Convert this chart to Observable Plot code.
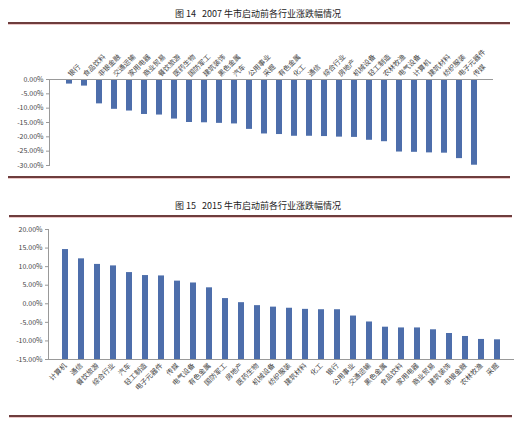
<!DOCTYPE html>
<html><head><meta charset="utf-8">
<script src="https://cdn.jsdelivr.net/npm/d3@7"></script>
<script src="https://cdn.jsdelivr.net/npm/@observablehq/plot@0.6"></script>
<style>
body{margin:0;background:#fff;}
#page{position:relative;width:516px;height:428px;overflow:hidden;background:#fff;font-family:"Noto Sans CJK SC",sans-serif;}
.title{position:absolute;left:0;width:516px;text-align:center;font-size:9px;color:#222;white-space:pre;}
.rule{position:absolute;height:2px;background:#6e3d3d;border-bottom:1px solid #ecc8c8;}
.chart{position:absolute;left:0;}
</style></head><body>
<div id="page">
  <div class="title" id="t1" style="top:7px"></div>
  <div class="rule" style="top:22px;left:8px;width:502px"></div>
  <div class="chart" id="c1" style="top:24px"></div>
  <div class="rule" style="top:176px;left:8px;width:502px"></div>
  <div class="title" id="t2" style="top:199px"></div>
  <div class="rule" style="top:215px;left:9px;width:503px"></div>
  <div class="chart" id="c2" style="top:218px"></div>
  <div class="rule" style="top:415px;left:9px;width:503px"></div>
</div>
<script>
const title07 = "图 14   2007 牛市启动前各行业涨跌幅情况";
const title15 = "图 15   2015 牛市启动前各行业涨跌幅情况";

const industries07 = ["银行","食品饮料","非银金融","交通运输","家用电器","商业贸易","餐饮旅游","医药生物","国防军工","建筑装饰","黑色金属","汽车","公用事业","采掘","有色金属","化工","通信","综合行业","房地产","机械设备","轻工制造","农林牧渔","电气设备","计算机","建筑材料","纺织服装","电子元器件","传媒"];
const change07 = [-1.6,-2.3,-8.5,-10.4,-11.0,-12.2,-12.4,-13.8,-15.0,-15.1,-15.3,-15.5,-17.4,-19.0,-19.2,-19.8,-19.8,-19.9,-20.1,-20.2,-21.2,-21.7,-25.3,-25.4,-25.6,-25.7,-27.6,-29.9];
const ticks07 = [0,-5,-10,-15,-20,-25,-30];

const industries15 = ["计算机","通信","餐饮旅游","综合行业","汽车","轻工制造","电子元器件","传媒","电气设备","有色金属","国防军工","房地产","医药生物","机械设备","纺织服装","建筑材料","化工","银行","公用事业","交通运输","黑色金属","食品饮料","家用电器","商业贸易","建筑装饰","非银金融","农林牧渔","采掘"];
const change15 = [14.6,12.1,10.6,10.2,8.4,7.6,7.5,6.1,5.6,4.3,1.4,0.3,-0.5,-0.9,-1.2,-1.5,-1.6,-1.6,-3.3,-4.9,-6.3,-6.5,-6.5,-7.0,-8.0,-8.8,-9.6,-9.7];
const ticks15 = [20,15,10,5,0,-5,-10,-15];

const barColor = "#4d6eab";
const fmt = d => d.toFixed(2) + "%";
const font = "'Noto Sans CJK SC', sans-serif";

document.getElementById("t1").textContent = title07;
document.getElementById("t2").textContent = title15;

const data07 = industries07.map((name, i) => ({name, value: change07[i]}));
const data15 = industries15.map((name, i) => ({name, value: change15[i]}));

const chart1 = Plot.plot({
  width: 516, height: 154,
  marginTop: 55, marginBottom: 13, marginLeft: 49, marginRight: 23,
  style: {fontFamily: font, fontSize: "7px", color: "#444", background: "transparent", overflow: "visible"},
  x: {domain: industries07, paddingInner: 0.62, paddingOuter: 0.31},
  y: {domain: [d3.min(ticks07), d3.max(ticks07)], nice: false},
  marks: [
    Plot.barY(data07, {x: "name", y: "value", fill: barColor}),
    Plot.ruleY([0], {stroke: "#999"}),
    Plot.frame({anchor: "left", stroke: "#999"}),
    Plot.axisY({ticks: ticks07, tickFormat: fmt, tickSize: 3, tickPadding: 3, label: null, stroke: "#999"}),
    Plot.axisX({anchor: "top", tickRotate: -45, tickSize: 0, tickPadding: 4, label: null, fontSize: 7})
  ]
});
document.getElementById("c1").appendChild(chart1);

const chart2 = Plot.plot({
  width: 516, height: 199,
  marginTop: 11, marginBottom: 58, marginLeft: 48, marginRight: 2,
  style: {fontFamily: font, fontSize: "7px", color: "#444", background: "transparent", overflow: "visible"},
  x: {domain: industries15, paddingInner: 0.61, paddingOuter: 0.305},
  y: {domain: [d3.min(ticks15), d3.max(ticks15)], nice: false},
  marks: [
    Plot.barY(data15, {x: "name", y1: d3.min(ticks15), y2: "value", fill: barColor}),
    Plot.ruleY([d3.min(ticks15)], {stroke: "#999"}),
    Plot.frame({anchor: "left", stroke: "#999"}),
    Plot.axisY({ticks: ticks15, tickFormat: fmt, tickSize: 3, tickPadding: 3, label: null, stroke: "#999"}),
    Plot.axisX({anchor: "bottom", tickRotate: -45, tickSize: 0, tickPadding: 5, label: null, fontSize: 7})
  ]
});
document.getElementById("c2").appendChild(chart2);
</script>
</body></html>
